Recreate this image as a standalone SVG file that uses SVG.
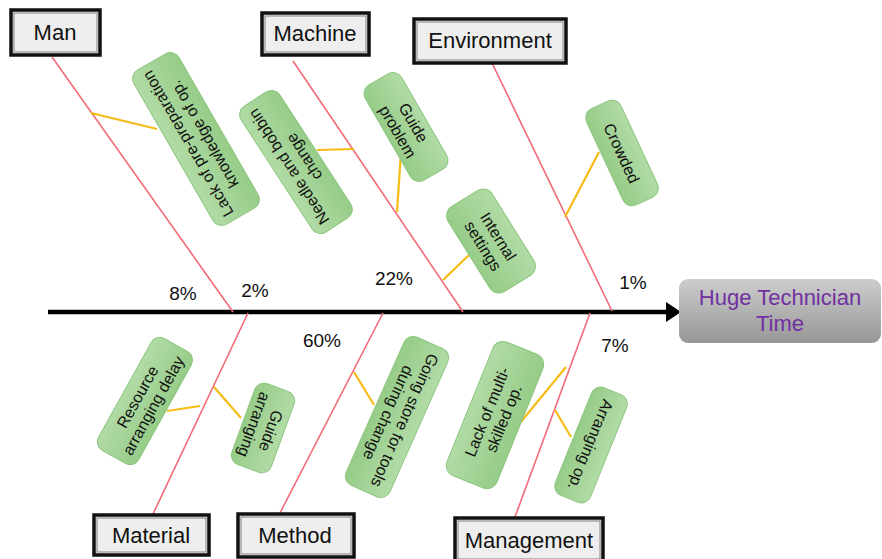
<svg xmlns="http://www.w3.org/2000/svg" width="882" height="559" viewBox="0 0 882 559">
<defs>
<linearGradient id="gGreen" x1="0" y1="0" x2="0" y2="1">
<stop offset="0" stop-color="#b2dba6"/>
<stop offset="1" stop-color="#96cc88"/>
</linearGradient>
<linearGradient id="gGray" x1="0" y1="0" x2="0" y2="1">
<stop offset="0" stop-color="#cdcdcd"/>
<stop offset="1" stop-color="#979797"/>
</linearGradient>
</defs>
<style>
.cat rect.o{fill:#eeeeee;stroke:#111;stroke-width:3.5}
.cat rect.i{fill:none;stroke:#666;stroke-width:0.8}
.cat text{font-family:"Liberation Sans",Arial,sans-serif;font-size:22px;fill:#111;text-anchor:middle}
.bone{stroke:#f26b78;stroke-width:1.6;fill:none}
.sub{stroke:#f7bb16;stroke-width:2.2;fill:none}
.cause rect{fill:url(#gGreen);stroke:#8cc67e;stroke-width:1}
.cause text{font-family:"Liberation Sans",Arial,sans-serif;font-size:16px;fill:#111;text-anchor:middle}
.pct{font-family:"Liberation Sans",Arial,sans-serif;font-size:19px;fill:#111;text-anchor:middle}
</style>

<g id="connectors">
<line x1="48" y1="312" x2="668" y2="312" stroke="#000" stroke-width="4.5"/>
<polygon points="666,302 681,312 666,322" fill="#000"/>
<line class="bone" x1="52" y1="57" x2="233" y2="312"/>
<line class="bone" x1="293" y1="61" x2="463" y2="312"/>
<line class="bone" x1="492" y1="63" x2="612" y2="311"/>
<line class="bone" x1="248" y1="313" x2="153" y2="514"/>
<line class="bone" x1="383" y1="313" x2="280" y2="513"/>
<line class="bone" x1="590" y1="313" x2="515" y2="517"/>
<line class="sub" x1="91" y1="113" x2="157" y2="129"/>
<line class="sub" x1="317" y1="150" x2="354" y2="149"/>
<line class="sub" x1="397" y1="212" x2="401" y2="152"/>
<line class="sub" x1="443" y1="280" x2="469" y2="255"/>
<line class="sub" x1="565" y1="217" x2="599" y2="152"/>
<line class="sub" x1="167" y1="411" x2="200" y2="406"/>
<line class="sub" x1="214" y1="387" x2="241" y2="418"/>
<line class="sub" x1="354" y1="372" x2="374" y2="405"/>
<line class="sub" x1="566" y1="367" x2="520" y2="423"/>
<line class="sub" x1="555" y1="410" x2="571" y2="437"/>
</g>

<g id="man" class="cat"><rect class="o" x="11" y="10" width="89" height="45"/><rect class="i" x="14" y="13" width="83" height="39"/><text x="55" y="40">Man</text></g>
<g id="machine" class="cat"><rect class="o" x="262" y="13" width="107" height="42"/><rect class="i" x="265" y="16" width="101" height="36"/><text x="315" y="41">Machine</text></g>
<g id="environment" class="cat"><rect class="o" x="414" y="19" width="152" height="44"/><rect class="i" x="417" y="22" width="146" height="38"/><text x="490" y="48">Environment</text></g>
<g id="material" class="cat"><rect class="o" x="94" y="515" width="115" height="40"/><rect class="i" x="97" y="518" width="109" height="34"/><text x="151" y="543">Material</text></g>
<g id="method" class="cat"><rect class="o" x="238" y="514" width="116" height="43"/><rect class="i" x="241" y="517" width="110" height="37"/><text x="295" y="543">Method</text></g>
<g id="management" class="cat"><rect class="o" x="455" y="518" width="148" height="44"/><rect class="i" x="458" y="521" width="142" height="38"/><text x="529" y="548">Management</text></g>

<g id="effect">
<rect x="679" y="279" width="202" height="64" rx="9" fill="url(#gGray)"/>
<text x="780" y="305" font-family="Liberation Sans, Arial, sans-serif" font-size="22" fill="#7030a0" text-anchor="middle">Huge Technician</text>
<text x="780" y="331" font-family="Liberation Sans, Arial, sans-serif" font-size="22" fill="#7030a0" text-anchor="middle">Time</text>
</g>

<g id="cause-prep" class="cause" transform="translate(196,139) rotate(240)"><rect x="-89" y="-26" width="178" height="52" rx="10"/><text y="-4">Lack of pre-preparation</text><text y="15">knowledge of op.</text></g>
<g id="cause-needle" class="cause" transform="translate(296,162) rotate(237)"><rect x="-75" y="-23" width="150" height="46" rx="10"/><text y="-3">Needle and bobbin</text><text y="15">change</text></g>
<g id="cause-guide-problem" class="cause" transform="translate(406,127) rotate(60)"><rect x="-55" y="-21" width="110" height="42" rx="10"/><text y="-3">Guide</text><text y="15">problem</text></g>
<g id="cause-internal" class="cause" transform="translate(491,241) rotate(58)"><rect x="-50" y="-26" width="100" height="52" rx="11"/><text y="-3">Internal</text><text y="15">settings</text></g>
<g id="cause-crowded" class="cause" transform="translate(622,153) rotate(65)"><rect x="-53" y="-19" width="106" height="38" rx="10"/><text y="6">Crowded</text></g>
<g id="cause-resource" class="cause" transform="translate(145,401) rotate(-61)"><rect x="-64" y="-23" width="128" height="46" rx="10"/><text y="-3">Resource</text><text y="15">arranging delay</text></g>
<g id="cause-guide-arranging" class="cause" transform="translate(263,428) rotate(110)"><rect x="-43" y="-21" width="86" height="42" rx="10"/><text y="-3">Guide</text><text y="15">arranging</text></g>
<g id="cause-going" class="cause" transform="translate(397,417) rotate(114)"><rect x="-81" y="-24" width="162" height="48" rx="10"/><text y="-3">Going store for tools</text><text y="15">during change</text></g>
<g id="cause-multi" class="cause" transform="translate(495,415) rotate(-68)"><rect x="-72" y="-27" width="144" height="54" rx="11"/><text y="-3">Lack of multi-</text><text y="15">skilled op.</text></g>
<g id="cause-arranging" class="cause" transform="translate(591,445) rotate(112)"><rect x="-58" y="-19" width="116" height="38" rx="10"/><text y="6">Arranging op.</text></g>

<g id="percentages">
<text class="pct" x="183" y="300">8%</text>
<text class="pct" x="255" y="297">2%</text>
<text class="pct" x="394" y="285">22%</text>
<text class="pct" x="633" y="289">1%</text>
<text class="pct" x="322" y="347">60%</text>
<text class="pct" x="615" y="352">7%</text>
</g>
</svg>
